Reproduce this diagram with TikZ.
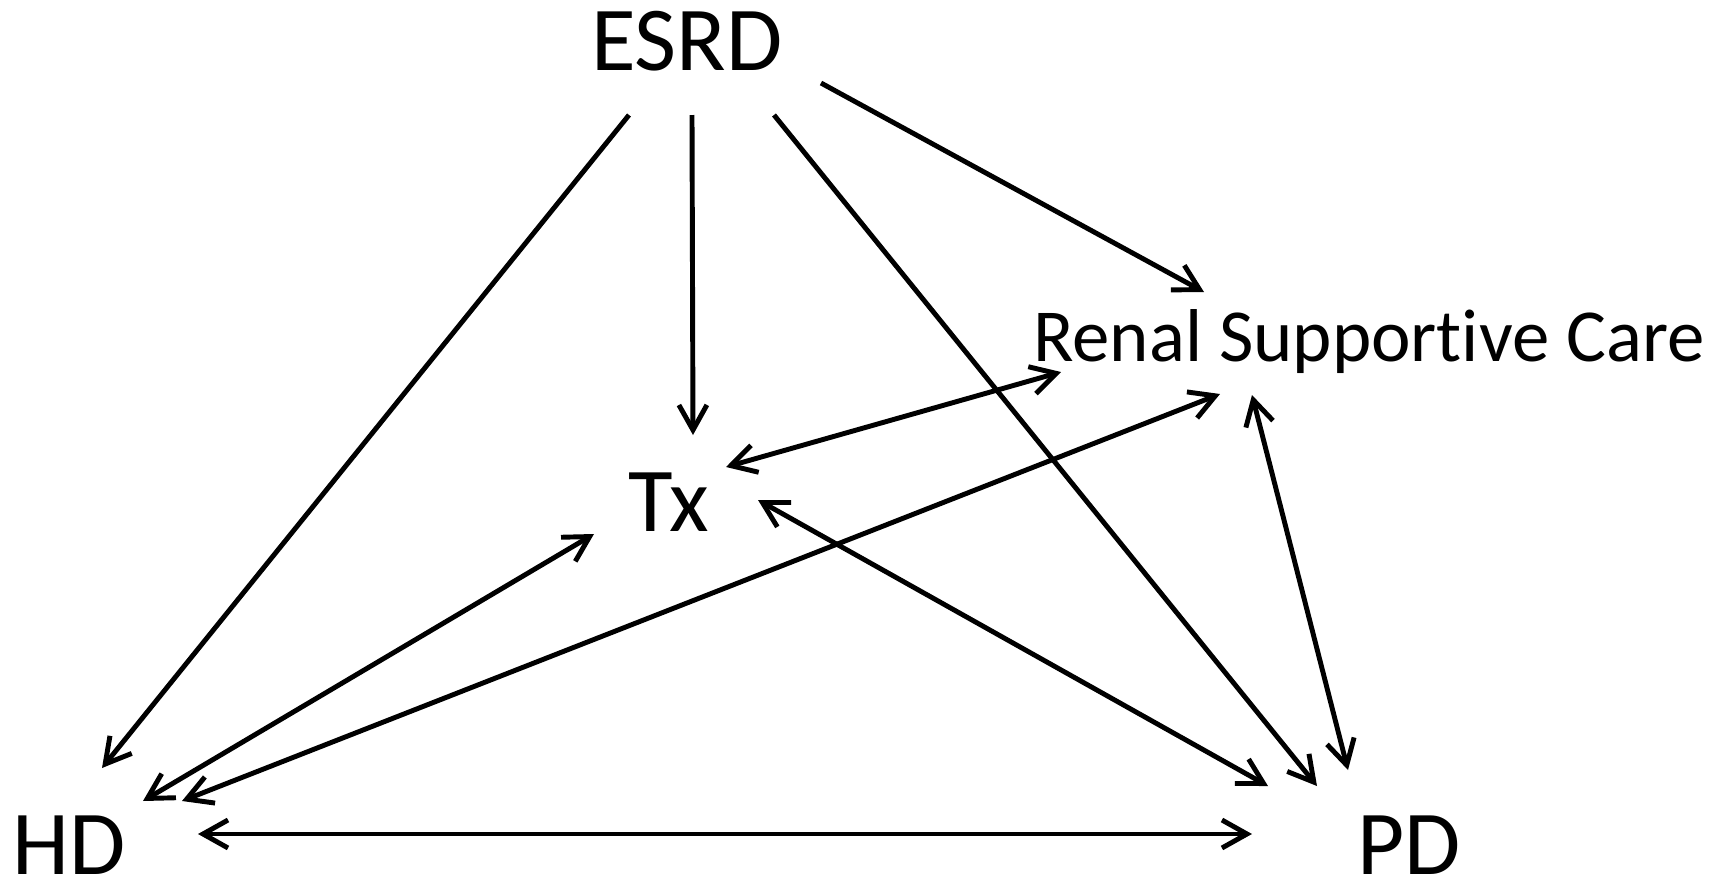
\documentclass[tikz,border=0pt]{standalone}
\usepackage{fontspec}
\setmainfont{Carlito}[Ligatures=NoCommon]
\usetikzlibrary{positioning,arrows.meta}

\begin{document}
\begin{tikzpicture}[
  on grid,
  line width=1.4pt,
  lbl/.style={inner sep=0pt,font=\fontsize{26}{30}\selectfont,text height=16.8pt,text depth=0pt},
  small/.style={lbl,font=\fontsize{21.3}{26}\selectfont,text height=13.7pt},
  arr/.style={-{Straight Barb[length=2.5mm,width=2.8mm]}},
  darr/.style={{Straight Barb[length=2.5mm,width=2.8mm]}-{Straight Barb[length=2.5mm,width=2.8mm]}}]
  \useasboundingbox (0,0) rectangle (17.16,-8.83);
  \node[lbl] (esrd) at (6.87,-0.41) {ESRD};
  \node[lbl,below=4.61 of esrd,xshift=-0.18cm] (tx) {Tx};
  \node[lbl,below left=8.04 and 6.18 of esrd] (hd) {HD};
  \node[lbl,right=13.4 of hd] (pd) {PD};
  \node[small,above right=1.645 and 7.0 of tx] (rsc) {Renal Supportive Care};
  % from ESRD
  \draw[arr] ([shift={(-0.58,-0.74)}]esrd.center) -- ([shift={(0.33,0.77)}]hd.center);
  \draw[arr] ([shift={(0.05,-0.74)}]esrd.center) -- ([shift={(0.24,0.67)}]tx.center);
  \draw[arr] ([shift={(0.87,-0.74)}]esrd.center) -- ([shift={(-0.92,0.59)}]pd.center);
  \draw[arr] ([shift={(1.34,-0.42)}]esrd.center) -- ([shift={(-1.65,0.455)}]rsc.center);
  % two-way links
  \draw[darr] ([shift={(0.57,0.35)}]tx.center) -- ([shift={(-3.08,-0.345)}]rsc.center);
  \draw[darr] ([shift={(-0.75,-0.32)}]tx.center) -- ([shift={(0.74,0.44)}]hd.center);
  \draw[darr] ([shift={(0.89,0.02)}]tx.center) -- ([shift={(-1.41,0.59)}]pd.center);
  \draw[darr] ([shift={(1.13,0.44)}]hd.center) -- ([shift={(-1.49,-0.565)}]rsc.center);
  \draw[darr] ([shift={(-1.17,-0.575)}]rsc.center) -- ([shift={(-0.61,0.75)}]pd.center);
  \draw[darr] ([shift={(1.29,0.11)}]hd.center) -- ([shift={(-1.57,0.11)}]pd.center);
\end{tikzpicture}
\end{document}
